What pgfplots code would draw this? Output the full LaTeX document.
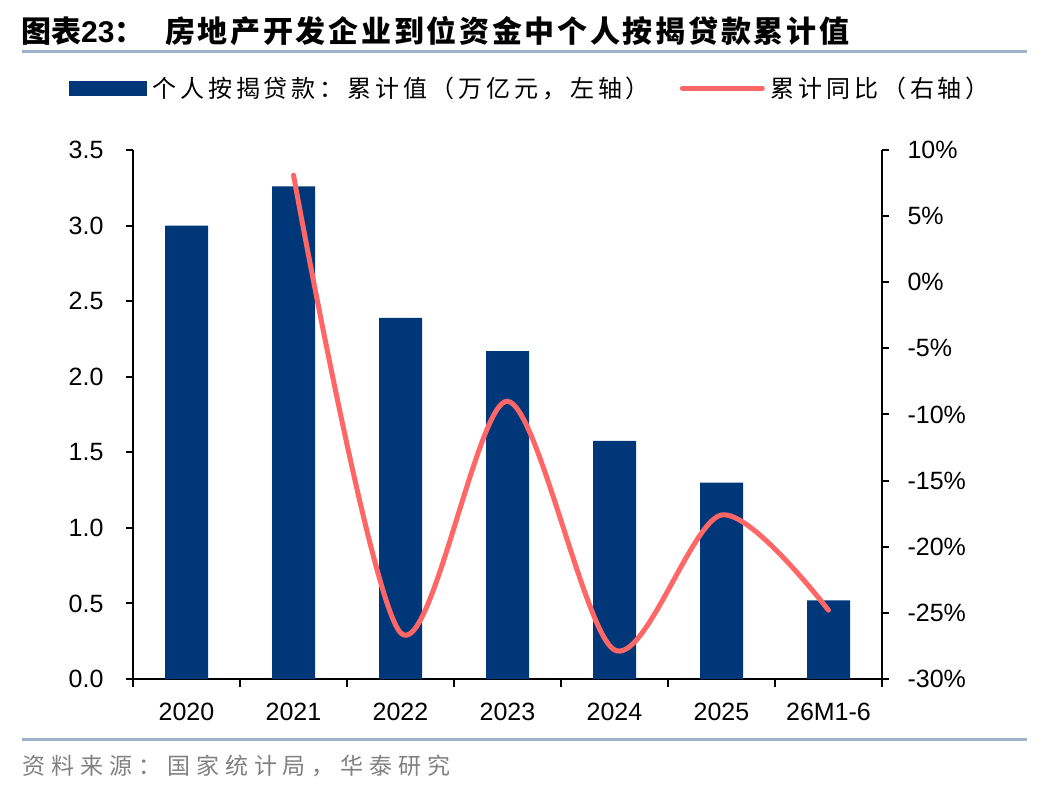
\documentclass[border=0pt]{standalone}
\usepackage{pgfplots}
\pgfplotsset{compat=1.18}
\usepackage{fontspec}
\setmainfont{Liberation Sans}
\newfontfamily\cjk{Noto Sans CJK SC}
\definecolor{navy}{HTML}{003778}
\definecolor{coral}{HTML}{FF6666}
\definecolor{rulec}{HTML}{9DB2CC}
\begin{document}
\begin{tikzpicture}
\path[use as bounding box] (0bp,0bp) rectangle (1048bp,792bp);
\draw[rulec, line width=3bp] (22bp,740bp) -- (1027bp,740bp);
\draw[rulec, line width=3bp] (22bp,52bp) -- (1027bp,52bp);
\node[anchor=west, inner sep=0pt, font=\fontsize{30bp}{30bp}\selectfont\bfseries] at (21bp,761bp) {{\cjk 图表}23{\cjk ：}};
\node[anchor=west, inner sep=0pt, font=\cjk\fontsize{30bp}{30bp}\selectfont\bfseries\addfontfeature{LetterSpace=9}] at (165bp,761bp) {房地产开发企业到位资金中个人按揭贷款累计值};
\node[anchor=west, inner sep=0pt, text=black!50, font=\cjk\fontsize{23bp}{23bp}\selectfont\addfontfeature{LetterSpace=26}] at (22bp,26bp) {资料来源：国家统计局，华泰研究};
\begin{axis}[
  at={(133bp,113bp)}, anchor=south west, scale only axis,
  width=749bp, height=529bp,
  xmin=-0.5, xmax=6.5, ymin=0, ymax=3.5,
  axis x line*=bottom, axis y line*=left,
  axis line style={line width=2bp, -},
  every tick/.style={black, line width=2bp},
  tick align=outside,
  major tick length=7bp, minor tick length=8bp,
  xtick={0,...,6},
  xticklabels={2020,2021,2022,2023,2024,2025,26M1-6},
  minor xtick={-0.5,0.5,...,6.5},
  major x tick style={draw=none},
  ytick={0,0.5,...,3.5},
  yticklabels={0.0,0.5,1.0,1.5,2.0,2.5,3.0,3.5},
  ticklabel style={font=\fontsize{25bp}{25bp}\selectfont},
  xticklabel style={yshift=-14bp},
  yticklabel style={xshift=-19bp},
  clip=false,
]
\addplot[ybar, bar width=43bp, fill=navy, draw=none] coordinates {
(0,3.00) (1,3.26) (2,2.39) (3,2.17) (4,1.575) (5,1.30) (6,0.52)};
\end{axis}
\begin{axis}[
  at={(133bp,113bp)}, anchor=south west, scale only axis,
  width=749bp, height=529bp,
  xmin=-0.5, xmax=6.5, ymin=-30, ymax=10,
  axis x line=none, axis y line*=right,
  axis line style={line width=2bp, -},
  every tick/.style={black, line width=2bp},
  tick align=outside,
  major tick length=7bp,
  ytick={-30,-25,...,10},
  yticklabels={-30\%,-25\%,-20\%,-15\%,-10\%,-5\%,0\%,5\%,10\%},
  ticklabel style={font=\fontsize{25bp}{25bp}\selectfont},
  yticklabel style={xshift=15bp},
  clip=false,
  legend style={draw=none, fill=none, at={(-0.0855,1.117)}, anchor=west,
    legend columns=2, inner sep=0pt,
    font=\cjk\fontsize{24bp}{24bp}\selectfont\addfontfeature{LetterSpace=16},
    /tikz/every even column/.append style={column sep=24bp},
    nodes={inner sep=0pt, inner xsep=6bp}},
  legend cell align=left,
]
\addlegendimage{legend image code/.code={\fill[navy] (0bp,-7bp) rectangle (77bp,7bp);}}
\addlegendentry{个人按揭贷款：累计值（万亿元，左轴）}
\addplot[coral, line width=5bp, smooth, tension=0.5, line cap=round,
  legend image code/.code={\draw[coral, line width=5bp] (0bp,0bp) -- (80bp,0bp);}]
  coordinates {(1,8.1) (2,-26.5) (3,-9.0) (4,-27.8) (5,-17.6) (6,-24.8)};
\addlegendentry{累计同比（右轴）}
\end{axis}
\end{tikzpicture}
\end{document}
